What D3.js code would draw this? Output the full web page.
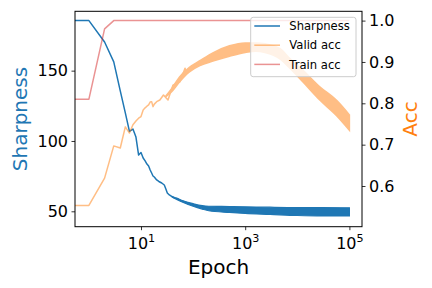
<!DOCTYPE html>
<html><head><meta charset="utf-8">
<script src="https://cdn.jsdelivr.net/npm/d3@7"></script>
<style>body{margin:0;background:#fff} svg{display:block} text{font-family:"DejaVu Sans",sans-serif}</style>
</head><body><svg id="c" width="432" height="288"></svg>
<script>
// ---- data ----
const sharpEpochs = [0,1,2,3,4,5,6,7,8,9,10,11,12,13,14,15,16,17,18,20,22,25,28,30,32,35,40,45,50,60,70,80,100,150,200,300,500,1000,3000,10000,30000,100000];
const sharpValues = [185.6,185.6,170.4,156.2,135.6,120.0,106.8,108.5,102.8,90.0,91.8,87.9,85.8,83.6,82.2,79.4,77.2,75.1,74.4,72.3,71.2,70.1,68.7,65.9,63.0,61.6,60.2,59.5,59.1,57.3,56.6,55.5,54.5,52.7,52.0,51.3,50.6,50.2,50.0,49.8,49.7,49.6];
const sharpBandEpochs = [40,60,100,150,200,500,1000,3000,10000,30000,100000];
const sharpBandHi = [60.4,57.8,55.4,54.0,53.6,53.4,53.2,52.9,52.7,52.7,52.5];
const sharpBandLo = [60.0,56.8,53.6,51.6,50.4,49.2,48.5,47.8,47.0,46.7,46.7];

const validEpochs = [0,1,2,3,4,5,6,7,8,9,10,11,12,13,14,15,16,17,18,20,23,27,33,41,56,70,75,100,135];
const validValues = [0.553,0.553,0.619,0.697,0.692,0.743,0.728,0.748,0.757,0.764,0.768,0.784,0.789,0.793,0.796,0.803,0.804,0.792,0.798,0.804,0.808,0.820,0.808,0.844,0.852,0.885,0.873,0.889,0.896];
const validBandEpochs = [30,40,55,85,135,240,500,1000,1600,2400,4700,7200,13000,27000,58000,100000];
const validBandHi = [0.818,0.838,0.864,0.887,0.903,0.922,0.939,0.946,0.946,0.944,0.932,0.908,0.879,0.840,0.806,0.772];
const validBandLo = [0.816,0.830,0.852,0.876,0.891,0.902,0.914,0.923,0.926,0.923,0.907,0.885,0.851,0.808,0.769,0.735];

const trainEpochs = [0,1,2,3,100000];
const trainValues = [0.81,0.81,0.98,1.0,1.0];

const xTicks = [10,1000,100000];
const xTickExp = ["1","3","5"];
const leftTicks = [50,100,150];
const rightTicks = [0.6,0.7,0.8,0.9,1.0];
const legendLabels = ["Sharpness","Valid acc","Train acc"];
const legendColors = ["#1f77b4","#ff7f0e","#d62728"];
const legendAlpha = [1,0.5,0.5];

// ---- layout ----
const L=75, R=362, T=11.3, B=226.7;
const svg = d3.select("#c");
const x = d3.scaleLog().domain([Math.pow(10,-0.2668), Math.pow(10,5.2418)]).range([L,R]);
const yL = d3.scaleLinear().domain([39.05,192.2]).range([B,T]);
const yR = d3.scaleLinear().domain([0.5016,1.0225]).range([B,T]);
const xp = e => e > 0 ? x(e) : L - 30;

svg.append("defs").append("clipPath").attr("id","clip")
  .append("rect").attr("x",L).attr("y",T).attr("width",R-L).attr("height",B-T);
const plot = svg.append("g").attr("clip-path","url(#clip)");

// sharpness
plot.append("path").attr("fill","none").attr("stroke","#1f77b4").attr("stroke-width",1.5).attr("stroke-linejoin","round")
  .attr("d", d3.line().x(i=>xp(sharpEpochs[i])).y(i=>yL(sharpValues[i]))(d3.range(sharpEpochs.length)));
plot.append("path").attr("fill","#1f77b4").attr("stroke","#1f77b4").attr("stroke-width",1.2)
  .attr("d", d3.area().x(i=>x(sharpBandEpochs[i])).y0(i=>yL(sharpBandLo[i])).y1(i=>yL(sharpBandHi[i])).curve(d3.curveMonotoneX)(d3.range(sharpBandEpochs.length)));

// valid acc (alpha group)
const gV = plot.append("g").attr("opacity",0.5);
gV.append("path").attr("fill","none").attr("stroke","#ff7f0e").attr("stroke-width",1.5).attr("stroke-linejoin","round")
  .attr("d", d3.line().x(i=>xp(validEpochs[i])).y(i=>yR(validValues[i]))(d3.range(validEpochs.length)));
gV.append("path").attr("fill","#ff7f0e").attr("stroke","#ff7f0e").attr("stroke-width",1.5)
  .attr("d", d3.area().x(i=>x(validBandEpochs[i])).y0(i=>yR(validBandLo[i])).y1(i=>yR(validBandHi[i])).curve(d3.curveMonotoneX)(d3.range(validBandEpochs.length)));

// train acc
plot.append("path").attr("fill","none").attr("stroke","#d62728").attr("stroke-opacity",0.5).attr("stroke-width",1.5).attr("stroke-linejoin","round")
  .attr("d", d3.line().x(i=>xp(trainEpochs[i])).y(i=>yR(trainValues[i]))(d3.range(trainEpochs.length)));

// axes
const fs = 16;
const ax = svg.append("g").attr("transform",`translate(0,${B})`)
  .call(d3.axisBottom(x).tickValues(xTicks).tickSize(3.5).tickPadding(3.5).tickFormat(()=>""));
ax.select(".domain").remove();
ax.selectAll(".tick line").attr("stroke","#000").attr("stroke-width",0.8);
ax.selectAll(".tick").each(function(d,i){
  const t = d3.select(this).select("text").attr("font-size",fs).attr("fill","#000").attr("dy",null).attr("y",22.5).attr("text-anchor","middle").attr("font-family","DejaVu Sans");
  t.append("tspan").text("10");
  t.append("tspan").attr("font-size",fs*0.7).attr("dy",-7).text(xTickExp[i]);
});

const al = svg.append("g").attr("transform",`translate(${L},0)`)
  .call(d3.axisLeft(yL).tickValues(leftTicks).tickSize(3.5).tickPadding(3.5));
al.select(".domain").remove();
al.selectAll(".tick line").attr("stroke","#000").attr("stroke-width",0.8);
al.selectAll(".tick text").attr("font-size",fs).attr("fill","#000").attr("font-family","DejaVu Sans");

const ar = svg.append("g").attr("transform",`translate(${R},0)`)
  .call(d3.axisRight(yR).tickValues(rightTicks).tickSize(3.5).tickPadding(3.5).tickFormat(d3.format(".1f")));
ar.select(".domain").remove();
ar.selectAll(".tick line").attr("stroke","#000").attr("stroke-width",0.8);
ar.selectAll(".tick text").attr("font-size",fs).attr("fill","#000").attr("font-family","DejaVu Sans");

svg.append("rect").attr("x",L).attr("y",T).attr("width",R-L).attr("height",B-T)
  .attr("fill","none").attr("stroke","#000").attr("stroke-width",1);

// axis labels
svg.append("text").attr("x",(L+R)/2).attr("y",274).attr("text-anchor","middle").attr("font-size",20).text("Epoch");
svg.append("text").attr("transform",`translate(27,${(T+B)/2}) rotate(-90)`).attr("text-anchor","middle").attr("font-size",20).attr("fill","#1f77b4").text("Sharpness");
svg.append("text").attr("transform",`translate(417,${(T+B)/2}) rotate(-90)`).attr("text-anchor","middle").attr("font-size",20).attr("fill","#ff7f0e").text("Acc");

// legend
const lg = svg.append("g");
lg.append("rect").attr("x",250.7).attr("y",17.3).attr("width",105.3).attr("height",59.4).attr("rx",2.5)
  .attr("fill","#fff").attr("fill-opacity",0.8).attr("stroke","#cccccc").attr("stroke-width",1);
legendLabels.forEach((lab,i)=>{
  const yy = 26 + i*19.2;
  lg.append("line").attr("x1",254.3).attr("x2",280).attr("y1",yy).attr("y2",yy)
    .attr("stroke",legendColors[i]).attr("stroke-opacity",legendAlpha[i]).attr("stroke-width",1.5);
  lg.append("text").attr("x",289.3).attr("y",yy+4.2).attr("font-size",11.6).attr("fill","#000").text(lab);
});
</script></body></html>
